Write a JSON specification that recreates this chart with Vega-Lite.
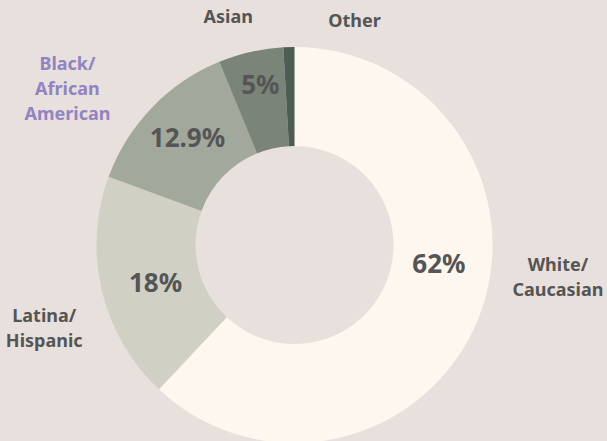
{
  "$schema": "https://vega.github.io/schema/vega-lite/v6.json",
  "width": 589,
  "height": 392,
  "autosize": {"type": "none"},
  "padding": {"left": 0, "top": 49, "right": 18, "bottom": 0},
  "background": "#e7e0dc",
  "config": {"view": {"stroke": null}, "text": {"font": "Noto Sans", "fontWeight": "bold"}},
  "data": {
    "values": [
      {"group": "White/\nCaucasian", "share": 62, "label": "62%", "rank": 1},
      {"group": "Latina/\nHispanic", "share": 18.6, "label": "18%", "rank": 2},
      {"group": "Black/\nAfrican\nAmerican", "share": 13.2, "label": "12.9%", "rank": 3},
      {"group": "Asian", "share": 5.3, "label": "5%", "rank": 4},
      {"group": "Other", "share": 0.9, "label": "", "rank": 5}
    ]
  },
  "encoding": {
    "theta": {"field": "share", "type": "quantitative", "stack": true},
    "order": {"field": "rank", "type": "quantitative", "sort": "ascending"},
    "detail": {"field": "group", "type": "nominal"}
  },
  "layer": [
    {
      "mark": {"type": "arc", "outerRadius": 198, "innerRadius": 99},
      "encoding": {
        "color": {
          "field": "group",
          "type": "nominal",
          "legend": null,
          "scale": {
            "domain": ["White/\nCaucasian", "Latina/\nHispanic", "Black/\nAfrican\nAmerican", "Asian", "Other"],
            "range": ["#fef7ef", "#d0d0c4", "#a3a89c", "#7b8479", "#4e5c56"]
          }
        }
      }
    },
    {
      "mark": {"type": "text", "radius": 150, "fontSize": 26, "color": "#555555", "baseline": "middle", "dx": 5, "dy": -35},
      "encoding": {"text": {"condition": {"test": "datum.rank === 1", "field": "label", "type": "nominal"}, "value": ""}}
    },
    {
      "mark": {"type": "text", "radius": 150, "fontSize": 26, "color": "#555555", "baseline": "middle", "dx": 7, "dy": 4},
      "encoding": {"text": {"condition": {"test": "datum.rank === 2", "field": "label", "type": "nominal"}, "value": ""}}
    },
    {
      "mark": {"type": "text", "radius": 150, "fontSize": 26, "color": "#555555", "baseline": "middle", "dx": 1, "dy": -2},
      "encoding": {"text": {"condition": {"test": "datum.rank === 3", "field": "label", "type": "nominal"}, "value": ""}}
    },
    {
      "mark": {"type": "text", "radius": 150, "fontSize": 26, "color": "#555555", "baseline": "middle", "dx": -1, "dy": -13},
      "encoding": {"text": {"condition": {"test": "datum.rank === 4", "field": "label", "type": "nominal"}, "value": ""}}
    },
    {
      "mark": {"type": "text", "radius": 250, "fontSize": 18, "lineHeight": 25, "lineBreak": "\n", "color": "#555555", "baseline": "middle", "dx": 31, "dy": -71},
      "encoding": {"text": {"condition": {"test": "datum.rank === 1", "field": "group", "type": "nominal"}, "value": ""}}
    },
    {
      "mark": {"type": "text", "radius": 250, "fontSize": 18, "lineHeight": 25, "lineBreak": "\n", "color": "#555555", "baseline": "middle", "dx": -7, "dy": 14},
      "encoding": {"text": {"condition": {"test": "datum.rank === 2", "field": "group", "type": "nominal"}, "value": ""}}
    },
    {
      "mark": {"type": "text", "radius": 250, "fontSize": 18, "lineHeight": 25, "lineBreak": "\n", "color": "#9283c2", "baseline": "middle", "dx": -47, "dy": -7},
      "encoding": {"text": {"condition": {"test": "datum.rank === 3", "field": "group", "type": "nominal"}, "value": ""}}
    },
    {
      "mark": {"type": "text", "radius": 250, "fontSize": 18, "color": "#555555", "baseline": "middle", "dx": -11, "dy": 17},
      "encoding": {"text": {"condition": {"test": "datum.rank === 4", "field": "group", "type": "nominal"}, "value": ""}}
    },
    {
      "mark": {"type": "text", "radius": 250, "fontSize": 18, "color": "#555555", "baseline": "middle", "dx": 67, "dy": 27},
      "encoding": {"text": {"condition": {"test": "datum.rank === 5", "field": "group", "type": "nominal"}, "value": ""}}
    }
  ]
}
